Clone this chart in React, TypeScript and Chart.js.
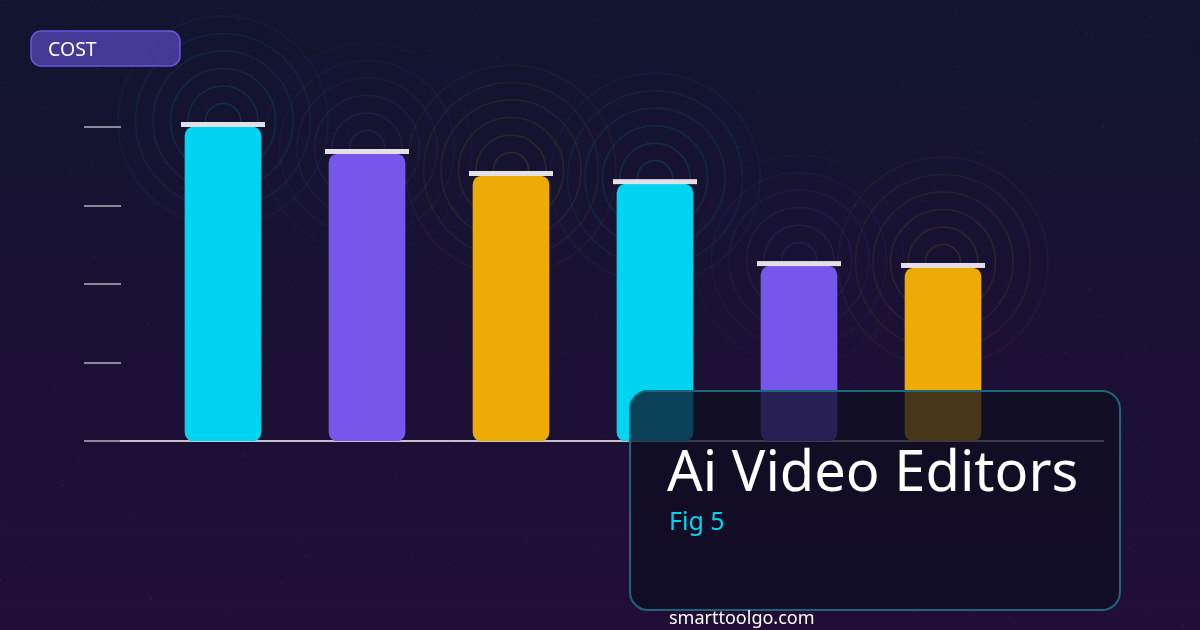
import React, { useEffect, useRef } from "react";
import { Chart, registerables } from "chart.js";

Chart.register(...registerables);

// chart data
const categories = ["Editor 1", "Editor 2", "Editor 3", "Editor 4", "Editor 5", "Editor 6"];
const costValues = [100, 91.4, 84.4, 81.8, 55.7, 55.1];
const barColors = ["#00d4f0", "#7557ec", "#eeaa05", "#00d4f0", "#7557ec", "#eeaa05"];
const yMax = 100;
const yStep = 25;

const badgeLabel = "COST";
const titleText = "Ai Video Editors";
const figText = "Fig 5";
const footerText = "smarttoolgo.com";

const FONT = '"Noto Sans", "Open Sans", sans-serif';

const hexToRgba = (hex: string, a: number) => {
  const n = parseInt(hex.slice(1), 16);
  return `rgba(${(n >> 16) & 255},${(n >> 8) & 255},${n & 255},${a})`;
};

const roundRect = (ctx: CanvasRenderingContext2D, x: number, y: number, w: number, h: number, r: number) => {
  ctx.beginPath();
  ctx.moveTo(x + r, y);
  ctx.lineTo(x + w - r, y);
  ctx.arcTo(x + w, y, x + w, y + r, r);
  ctx.lineTo(x + w, y + h - r);
  ctx.arcTo(x + w, y + h, x + w - r, y + h, r);
  ctx.lineTo(x + r, y + h);
  ctx.arcTo(x, y + h, x, y + h - r, r);
  ctx.lineTo(x, y + r);
  ctx.arcTo(x, y, x + r, y, r);
  ctx.closePath();
};

// background, rings, axis and ticks
const backdropPlugin = {
  id: "backdrop",
  beforeDraw(chart: any) {
    const { ctx, width, height } = chart;
    ctx.save();
    const g = ctx.createLinearGradient(0, 0, 0, height);
    g.addColorStop(0, "#11152e");
    g.addColorStop(1, "#220d37");
    ctx.fillStyle = g;
    ctx.fillRect(0, 0, width, height);

    // faint stars
    let seed = 7;
    const rnd = () => {
      seed = (seed * 16807) % 2147483647;
      return seed / 2147483647;
    };
    ctx.fillStyle = "rgba(200,200,255,0.12)";
    for (let i = 0; i < 260; i++) {
      ctx.fillRect(rnd() * width, rnd() * height, 1.2, 1.2);
    }
    ctx.restore();
  },
  beforeDatasetsDraw(chart: any) {
    const { ctx } = chart;
    const meta = chart.getDatasetMeta(0);
    const yScale = chart.scales.y;
    ctx.save();
    // rings behind each bar top
    meta.data.forEach((bar: any, i: number) => {
      const cx = bar.x;
      const cy = bar.y - 6;
      for (let k = 1; k <= 6; k++) {
        ctx.beginPath();
        ctx.arc(cx, cy, k * 17.5, 0, Math.PI * 2);
        ctx.strokeStyle = hexToRgba(barColors[i], 0.16 - k * 0.018);
        ctx.lineWidth = 1.6;
        ctx.stroke();
      }
    });

    // tick marks on the left
    ctx.strokeStyle = "#8a8798";
    ctx.lineWidth = 2;
    yScale.ticks.forEach((t: any) => {
      const y = Math.round(yScale.getPixelForValue(t.value));
      ctx.beginPath();
      ctx.moveTo(84, y);
      ctx.lineTo(121, y);
      ctx.stroke();
    });

    // baseline
    const y0 = Math.round(yScale.getPixelForValue(0));
    ctx.strokeStyle = "#c4c0cc";
    ctx.beginPath();
    ctx.moveTo(120, y0);
    ctx.lineTo(1104, y0);
    ctx.stroke();
    ctx.restore();
  },
  afterDatasetsDraw(chart: any) {
    const { ctx } = chart;
    const meta = chart.getDatasetMeta(0);
    ctx.save();
    ctx.fillStyle = "#e2e0e6";
    meta.data.forEach((bar: any) => {
      ctx.fillRect(bar.x - 42, bar.y - 5, 84, 5);
    });
    ctx.restore();
  },
  afterDraw(chart: any) {
    const { ctx } = chart;
    ctx.save();

    // badge
    roundRect(ctx, 31, 31, 149, 35, 10);
    ctx.fillStyle = "rgba(107,85,224,0.58)";
    ctx.fill();
    ctx.strokeStyle = "#6b55e0";
    ctx.lineWidth = 1.5;
    ctx.stroke();
    ctx.fillStyle = "#ffffff";
    ctx.font = `19.5px ${FONT}`;
    ctx.textBaseline = "alphabetic";
    ctx.fillText(badgeLabel, 48, 56);

    // title panel
    roundRect(ctx, 630, 391, 490, 219, 18);
    ctx.fillStyle = "rgba(13,13,33,0.74)";
    ctx.fill();
    ctx.strokeStyle = "#1b6678";
    ctx.lineWidth = 2;
    ctx.stroke();

    ctx.fillStyle = "#ffffff";
    ctx.font = `56px ${FONT}`;
    ctx.fillText(titleText, 667, 491);
    ctx.fillStyle = "#00d4f0";
    ctx.font = `25px ${FONT}`;
    ctx.fillText(figText, 669, 530);
    ctx.fillStyle = "#ffffff";
    ctx.font = `18px ${FONT}`;
    ctx.fillText(footerText, 669, 624);
    ctx.restore();
  },
};

const App: React.FC = () => {
  const chartRef = useRef<HTMLCanvasElement>(null);

  useEffect(() => {
    document.body.style.margin = "0";
    if (!chartRef.current) return;
    const ctx = chartRef.current.getContext("2d");
    if (!ctx) return;
    const chart = new Chart(ctx, {
      type: "bar",
      data: {
        labels: categories,
        datasets: [
          {
            label: badgeLabel,
            data: costValues,
            backgroundColor: barColors,
            borderRadius: 9,
            borderSkipped: false,
            barThickness: 76,
          },
        ],
      },
      options: {
        responsive: false,
        animation: false,
        layout: { padding: { left: 151, right: 185, top: 127, bottom: 189 } },
        scales: {
          x: { display: false },
          y: { display: false, min: 0, max: yMax, ticks: { stepSize: yStep } },
        },
        plugins: {
          legend: { display: false },
          tooltip: { enabled: false },
        },
      },
      plugins: [backdropPlugin],
    });
    return () => chart.destroy();
  }, []);

  return <canvas ref={chartRef} width={1200} height={630} style={{ display: "block" }}></canvas>;
};

export default App;
